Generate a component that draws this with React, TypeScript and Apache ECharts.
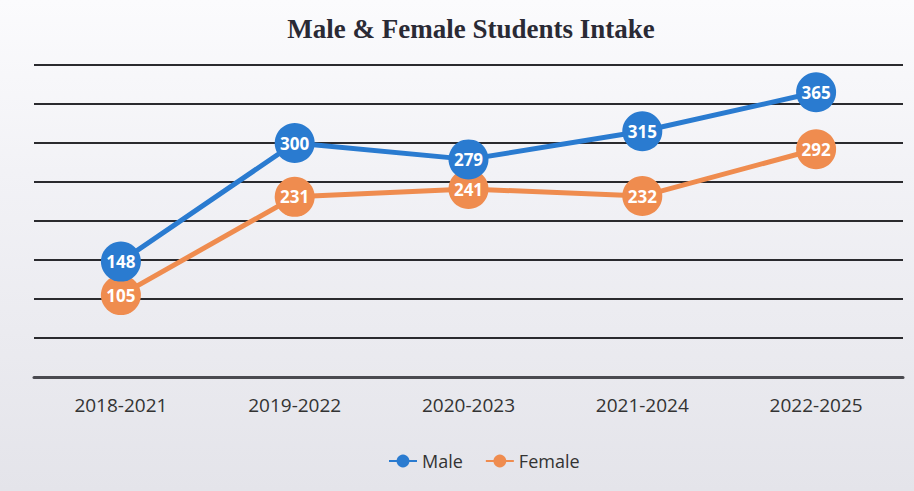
import React, { useEffect, useRef } from "react";
import * as echarts from "echarts";

const categories = ["2018-2021", "2019-2022", "2020-2023", "2021-2024", "2022-2025"];
const maleValues = [148, 300, 279, 315, 365];
const femaleValues = [105, 231, 241, 232, 292];
const seriesNames = ["Male", "Female"];
const titleText = "Male & Female Students Intake";

export default function App() {
  const ref = useRef<HTMLDivElement>(null);
  useEffect(() => {
    if (!ref.current) return;
    const chart = echarts.init(ref.current, null, { renderer: "svg" });
    const labelStyle = {
      show: true,
      position: "inside" as const,
      color: "#ffffff",
      fontWeight: "bold" as const,
      fontSize: 17,
      fontFamily: "'Open Sans', sans-serif",
    };
    chart.setOption({
      animation: false,
      backgroundColor: {
        type: "linear",
        x: 0, y: 0, x2: 0, y2: 1,
        colorStops: [
          { offset: 0, color: "#fbfbfd" },
          { offset: 0.35, color: "#f2f2f6" },
          { offset: 1, color: "#e4e4ea" },
        ],
      },
      title: {
        text: titleText,
        left: 466,
        textAlign: "center",
        top: 10,
        textStyle: {
          fontFamily: "'Liberation Serif', 'DejaVu Serif', serif",
          fontWeight: "bold",
          fontSize: 27,
          color: "#2a2a35",
        },
      },
      legend: {
        top: 447,
        left: 383,
        itemWidth: 28,
        itemHeight: 16,
        itemGap: 22,
        textStyle: {
          fontSize: 18,
          color: "#333",
          fontFamily: "'Open Sans', sans-serif",
        },
        data: seriesNames,
      },
      grid: { left: 34, right: 11, top: 65, bottom: 114, containLabel: false },
      xAxis: {
        type: "category",
        data: categories,
        boundaryGap: true,
        axisLine: { show: true, lineStyle: { color: "#4a4a50", width: 3 } },
        axisTick: { show: false },
        axisLabel: {
          margin: 18,
          fontSize: 19,
          color: "#333",
          fontFamily: "'Open Sans', sans-serif",
        },
      },
      yAxis: {
        type: "value",
        min: 0,
        max: 400,
        interval: 50,
        axisLabel: { show: false },
        axisLine: { show: false },
        axisTick: { show: false },
        splitLine: { lineStyle: { color: "#2a2a2e", width: 2 } },
      },
      series: [
        {
          name: seriesNames[0],
          type: "line",
          data: maleValues,
          color: "#2a7bd0",
          lineStyle: { width: 5, color: "#2a7bd0" },
          symbol: "circle",
          symbolSize: 40,
          itemStyle: { color: "#2a7bd0" },
          label: labelStyle,
          z: 3,
        },
        {
          name: seriesNames[1],
          type: "line",
          data: femaleValues,
          color: "#ef8c4f",
          lineStyle: { width: 5, color: "#ef8c4f" },
          symbol: "circle",
          symbolSize: 40,
          itemStyle: { color: "#ef8c4f" },
          label: labelStyle,
          z: 2,
        },
      ],
    });
    return () => chart.dispose();
  }, []);
  return (
    <div
      ref={ref}
      style={{ position: "absolute", left: 0, top: 0, width: 914, height: 491 }}
    />
  );
}
